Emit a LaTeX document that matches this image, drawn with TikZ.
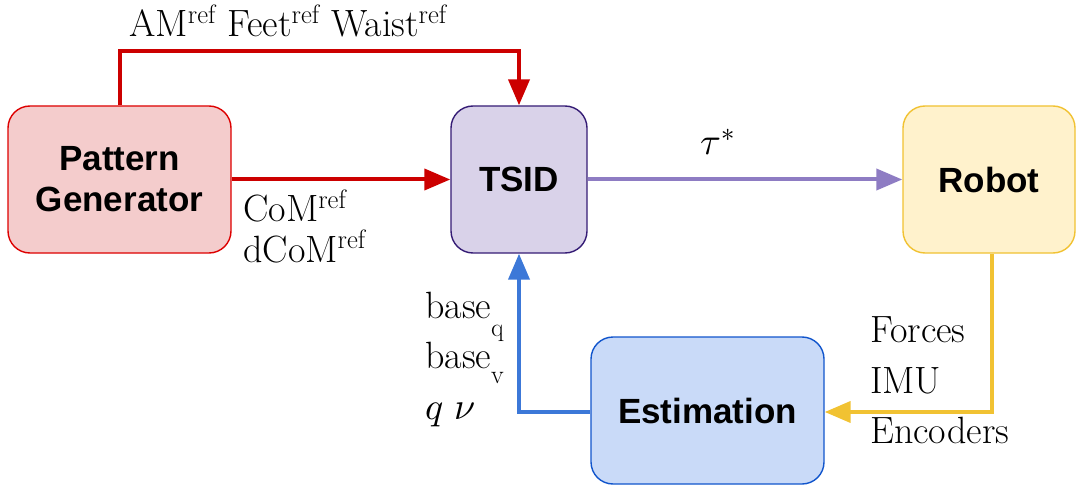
\documentclass[tikz,border=0pt]{standalone}
\usepackage{fontspec}
\usepackage{unicode-math}
\newfontfamily\boxfont{Liberation Sans}
\usetikzlibrary{arrows.meta}
\definecolor{pgfill}{HTML}{F4CCCC}
\definecolor{pgdraw}{HTML}{DD0000}
\definecolor{redarrow}{HTML}{CC0000}
\definecolor{tsfill}{HTML}{D9D2E9}
\definecolor{tsdraw}{HTML}{351C75}
\definecolor{purparrow}{HTML}{8E7CC3}
\definecolor{rbfill}{HTML}{FFF2CC}
\definecolor{rbdraw}{HTML}{F1C232}
\definecolor{yelarrow}{HTML}{F1C232}
\definecolor{esfill}{HTML}{C9DAF8}
\definecolor{esdraw}{HTML}{1155CC}
\definecolor{bluearrow}{HTML}{3C78D8}
\newcommand{\lowsub}[2]{\raisebox{#1}{\fontsize{26}{26}\selectfont #2}}
\begin{document}
\begin{tikzpicture}[x=1pt,y=-1pt,
  blk/.style={rounded corners=22pt, line width=1.4pt, inner sep=0pt,
    font=\boxfont\bfseries\fontsize{35}{41}\selectfont, align=center},
  lbl/.style={inner sep=0pt, font=\fontsize{38}{42}\selectfont},
  conn/.style={line width=4pt, -{Triangle[length=26pt,width=21pt]}}]
\useasboundingbox (0,0) rectangle (1076,489);

\node[blk, draw=pgdraw, fill=pgfill, minimum width=223pt, minimum height=147pt] (pg) at (119.5,179.5) {Pattern\\Generator};
\node[blk, draw=tsdraw, fill=tsfill, minimum width=136pt, minimum height=147pt] (tsid) at (519,179.5) {TSID};
\node[blk, draw=rbdraw, fill=rbfill, minimum width=172pt, minimum height=147pt] (robot) at (989,179.5) {Robot};
\node[blk, draw=esdraw, fill=esfill, minimum width=233pt, minimum height=147pt] (est) at (707.5,410.5) {Estimation};

\coordinate (topL) at (120,51);
\coordinate (topR) at (519,51);
\coordinate (yc) at (992,412);
\coordinate (bc) at (519,412);

\draw[conn, redarrow] (pg.north -| topL) -- (topL) -- (topR) -- (tsid.north -| topR);
\draw[conn, redarrow] (pg.east) -- (tsid.west);
\draw[conn, purparrow] (tsid.east) -- (robot.west);
\draw[conn, yelarrow] (robot.south -| yc) -- (yc) -- (est.east |- yc);
\draw[conn, bluearrow] (est.west |- bc) -- (bc) -- (tsid.south -| bc);

\node[lbl, anchor=base] (toplbl) at (288,37) {AM\textsuperscript{ref} Feet\textsuperscript{ref} Waist\textsuperscript{ref}};
\node[lbl, anchor=base west] (com) at (243,222) {CoM\textsuperscript{ref}};
\node[lbl, anchor=base west] (dcom) at (243,262) {dCoM\textsuperscript{ref}};
\node[lbl, anchor=base] (tau) at (718,155) {$\tau^{*}$};
\node[lbl, anchor=base west] (forces) at (870,342) {Forces};
\node[lbl, anchor=base west] (imu) at (870,393) {IMU};
\node[lbl, anchor=base west] (enc) at (870,443) {Encoders};
\node[lbl, anchor=base west] (bq) at (425,318) {base\lowsub{-18pt}{q}};
\node[lbl, anchor=base west] (bv) at (425,368) {base\lowsub{-15pt}{v}};
\node[lbl, anchor=base west] (qn) at (425,419) {$q\ \nu$};
\end{tikzpicture}
\end{document}
